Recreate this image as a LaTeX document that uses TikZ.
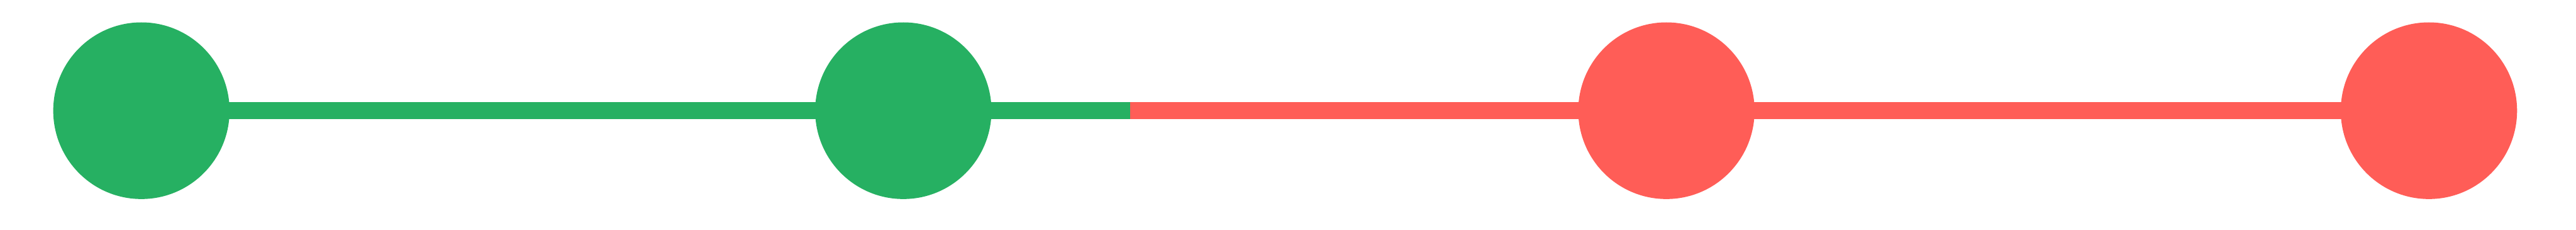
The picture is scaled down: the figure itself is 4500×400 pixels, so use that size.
\documentclass[tikz,border=0pt]{standalone}
\usetikzlibrary{backgrounds}
\definecolor{okgreen}{HTML}{26B062}
\definecolor{badred}{HTML}{FF5D57}
\begin{document}
\begin{tikzpicture}[x=1pt,y=1pt,
  dot/.style={circle,inner sep=0pt,minimum size=308pt,draw=none},
  gooddot/.style={dot,fill=okgreen},
  baddot/.style={dot,fill=badred},
  goodline/.style={okgreen,line width=29pt},
  badline/.style={badred,line width=29pt}]
\useasboundingbox (0,0) rectangle (4500,400);
\node[gooddot] (n1) at (247,207) {};
\node[gooddot] (n2) at (1578,207) {};
\node[baddot] (n3) at (2911,207) {};
\node[baddot] (n4) at (4243,207) {};
\coordinate (split) at (1974,207);
\begin{scope}[on background layer]
\fill[white] (0,0) rectangle (4500,400);
\draw[goodline] (n1.center) -- (n2.center);
\draw[goodline] (n2.center) -- (split);
\draw[badline] (split) -- (n3.center);
\draw[badline] (n3.center) -- (n4.center);
\end{scope}
\end{tikzpicture}
\end{document}
